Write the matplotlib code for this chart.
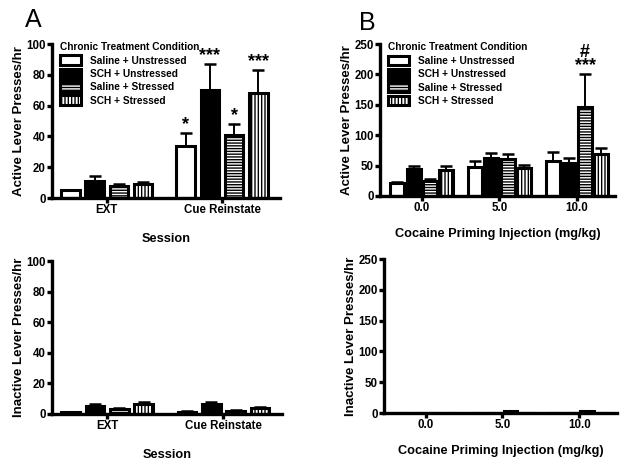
import matplotlib
matplotlib.use("Agg")
import matplotlib.pyplot as plt
import numpy as np

plt.rcParams['font.family'] = ['Liberation Sans', 'DejaVu Sans']
plt.rcParams['hatch.linewidth'] = 1.0

# ---------------- data ----------------
groups = ["Saline + Unstressed", "SCH + Unstressed", "Saline + Stressed", "SCH + Stressed"]

sessions = ["EXT", "Cue Reinstate"]
a_active = [[5, 34], [11, 70], [8, 41], [9, 68]]
a_active_err = [[0.5, 8], [3.5, 17], [1.2, 7], [1.5, 15]]
a_inactive = [[1, 1.5], [5.5, 6.5], [3, 2.2], [6.5, 4]]
a_inactive_err = [[0.3, 0.3], [1, 1.2], [0.6, 0.4], [1.3, 0.9]]

doses = ["0.0", "5.0", "10.0"]
b_active = [[22, 47, 58], [45, 62, 54], [24, 61, 147], [42, 46, 69]]
b_active_err = [[1.5, 11, 14], [4, 8, 8], [4, 8, 53], [8, 5, 10]]
b_inactive = [[0.3, 0.5, 0.5], [0.3, 0.5, 0.5], [0.3, 4, 4], [0.3, 0.5, 0.5]]

a_sig = [["", "*"], ["", "***"], ["", "*"], ["", "***"]]
b_sig = [["", "", ""], ["", "", ""], ["", "", "#\n***"], ["", "", ""]]

# ---------------- styling ----------------
hatches = [None, None, '------', '|||||']
faces = ['white', 'black', 'white', 'white']
offsets = np.array([-1.5, -0.5, 0.5, 1.5]) * 0.21

fig = plt.figure(figsize=(6.24, 4.63), dpi=100)

def style_axis(ax, ylim, yticks, xlim, xticklabels, ylabel, xlabel, xlabelpad=11):
    ax.set_ylim(*ylim)
    ax.set_yticks(yticks)
    ax.set_xlim(*xlim)
    ax.set_xticks(np.arange(len(xticklabels)))
    ax.set_xticklabels(xticklabels, fontsize=8.3, fontweight='bold')
    for lab in ax.get_yticklabels():
        lab.set_fontsize(8.3)
        lab.set_fontweight('bold')
    ax.spines['top'].set_visible(False)
    ax.spines['right'].set_visible(False)
    ax.spines['left'].set_linewidth(2.4)
    ax.spines['bottom'].set_linewidth(2.4)
    ax.tick_params(axis='both', width=2.4, length=3.5, direction='out', pad=1.0)
    ax.set_ylabel(ylabel, fontsize=9.5, fontweight='bold', labelpad=1)
    ax.set_xlabel(xlabel, fontsize=9.2, fontweight='bold', labelpad=xlabelpad)

def draw_bars(ax, vals, errs, width, ncat, sig=None, legend=False):
    x = np.arange(ncat)
    for i in range(4):
        ax.bar(x + offsets[i], vals[i], width=width, color=faces[i],
               edgecolor='black', linewidth=2.2, hatch=hatches[i],
               label=groups[i], zorder=2)
        if errs is not None:
            ax.errorbar(x + offsets[i], vals[i], yerr=[np.zeros(ncat), errs[i]],
                        fmt='none', ecolor='black', elinewidth=1.4, capsize=4,
                        capthick=1.8, zorder=1)
        if sig is not None:
            for j in range(ncat):
                if sig[i][j]:
                    top = vals[i][j] + (errs[i][j] if errs is not None else 0)
                    ax.annotate(sig[i][j], (x[j] + offsets[i], top),
                                xytext=(0, 0), textcoords='offset points',
                                ha='center', va='bottom', fontsize=13,
                                fontweight='bold', linespacing=0.75)
    if legend:
        ax.legend(title="Chronic Treatment Condition", loc='upper left',
                  bbox_to_anchor=(0.01, 1.05), frameon=False,
                  prop={'size': 7.3, 'weight': 'bold'},
                  title_fontproperties={'size': 7.3, 'weight': 'bold'},
                  handlelength=2.0, handleheight=1.1, labelspacing=0.3,
                  handletextpad=0.9, alignment='left', borderaxespad=0.2)

# Panel A top
axA = fig.add_axes([52/624, 1-198/463, 228/624, 154/463])
draw_bars(axA, a_active, a_active_err, 0.16, 2, sig=a_sig, legend=True)
style_axis(axA, (0, 100), [0, 20, 40, 60, 80, 100], (-0.474, 1.503), sessions,
           "Active Lever Presses/hr", "Session", xlabelpad=12)

# Panel B top
axB = fig.add_axes([380/624, 1-196/463, 235/624, 152/463])
draw_bars(axB, b_active, b_active_err, 0.18, 3, sig=b_sig, legend=True)
style_axis(axB, (0, 250), [0, 50, 100, 150, 200, 250], (-0.54, 2.49), doses,
           "Active Lever Presses/hr", "Cocaine Priming Injection (mg/kg)", xlabelpad=10)

# Panel A bottom
axC = fig.add_axes([52/624, 1-414/463, 230/624, 153/463])
draw_bars(axC, a_inactive, a_inactive_err, 0.16, 2)
style_axis(axC, (0, 100), [0, 20, 40, 60, 80, 100], (-0.474, 1.503), sessions,
           "Inactive Lever Presses/hr", "Session", xlabelpad=12)

# Panel B bottom
axD = fig.add_axes([384/624, 1-413/463, 233/624, 154/463])
draw_bars(axD, b_inactive, None, 0.18, 3)
style_axis(axD, (0, 250), [0, 50, 100, 150, 200, 250], (-0.54, 2.49), doses,
           "Inactive Lever Presses/hr", "Cocaine Priming Injection (mg/kg)", xlabelpad=10)

fig.text(25/624, 1-27/463, "A", fontsize=18, ha='left', va='baseline')
fig.text(359/624, 1-30/463, "B", fontsize=18, ha='left', va='baseline')

fig.savefig("out.png", dpi=100)
